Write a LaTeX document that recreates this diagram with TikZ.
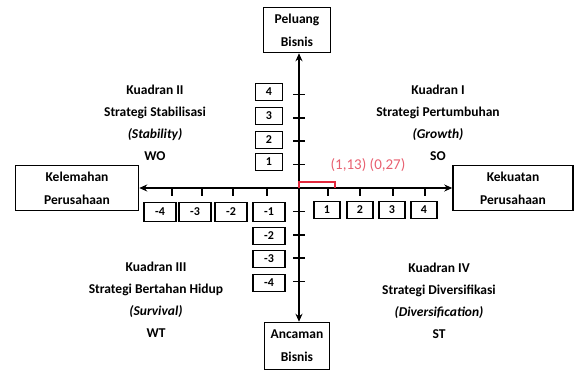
\documentclass[tikz,border=0pt]{standalone}
\usepackage{fontspec}
\setmainfont{Carlito}
\usepackage{xcolor}
\usetikzlibrary{arrows.meta,positioning}
\definecolor{markred}{RGB}{226,40,60}
\definecolor{labelred}{RGB}{232,96,112}

\begin{document}
\begin{tikzpicture}[
  x=1pt, y=1pt,
  every node/.style={font=\fontsize{13.5}{22}\selectfont\bfseries},
  sidebox/.style={rectangle, draw, line width=1.5pt, align=center, inner sep=0pt, minimum height=45pt, font=\fontsize{13.5}{23}\selectfont\bfseries},
  numbox/.style={rectangle, draw, line width=1.7pt, inner sep=0pt, minimum height=17pt, font=\fontsize{12}{12}\selectfont\bfseries},
  quad/.style={align=center},
  axis/.style={{Stealth[length=8pt,width=7pt]}-{Stealth[length=8pt,width=7pt]}, line width=1.9pt},
  tickmark/.style={line width=1.5pt}
]
\useasboundingbox (-299,-185) rectangle (278,188);
\coordinate (O) at (0,0);

% boxes at the ends of the axes
\node[sidebox, minimum width=67pt] (peluang) at (-2,158) {Peluang\\Bisnis};
\node[sidebox, minimum width=65pt, minimum height=47pt] (ancaman) at (-2,-158) {Ancaman\\Bisnis};
\node[sidebox, minimum width=123pt] (kelemahan) at (-222,0) {Kelemahan\\Perusahaan};
\node[sidebox, minimum width=120pt] (kekuatan) at (214,0) {Kekuatan\\Perusahaan};

\draw[axis] (peluang.south -| O) -- (ancaman.north -| O);
\draw[axis] (kelemahan.east) -- (kekuatan.west);

% ticks
\foreach \k in {1,...,4} {
  \draw[tickmark] (-6,23.4*\k) -- (6,23.4*\k);
  \draw[tickmark] (-6,-23.4*\k) -- (6,-23.4*\k);
}
\foreach \t in {29,61,94,126,-32,-66,-97,-127}
  \draw[tickmark] (\t,0) -- (\t,-8);

% scale labels
\foreach \k/\yy in {1/26,2/48,3/72,4/96}
  \node[numbox, minimum width=27pt] (yp\k) at (-30,\yy) {\k};
\foreach \k/\yy in {2/-48,3/-71,4/-95}
  \node[numbox, minimum width=32pt] (yn\k) at (-30,\yy) {-\k};
\foreach \k/\xx in {1/-30,2/-68,3/-104,4/-139}
  \node[numbox, minimum width=32pt, minimum height=19pt] (xn\k) at (\xx,-24) {-\k};
\foreach \k/\xx in {1/28,2/61,3/93,4/125}
  \node[numbox, minimum width=26pt] (xp\k) at (\xx,-22) {\k};

% position of the firm
\draw[markred, line width=1.6pt] (O) -- (0,6.3) -- (36.2,6.3) -- (36.2,0);
\node[text=labelred, font=\fontsize{15}{15}\selectfont] (titik) at (69,23) {(1,13) (0,27)};

% quadrants
\node[quad] (kuadran1) at (139,65) {Kuadran I\\Strategi Pertumbuhan\\\textit{(Growth)}\\SO};
\node[quad] (kuadran2) at (-144,65) {Kuadran II\\Strategi Stabilisasi\\\textit{(Stability)}\\WO};
\node[quad] (kuadran3) at (-143,-112) {Kuadran III\\Strategi Bertahan Hidup\\\textit{(Survival)}\\WT};
\node[quad] (kuadran4) at (140,-113) {Kuadran IV\\Strategi Diversifikasi\\\textit{(Diversification)}\\ST};
\end{tikzpicture}
\end{document}
